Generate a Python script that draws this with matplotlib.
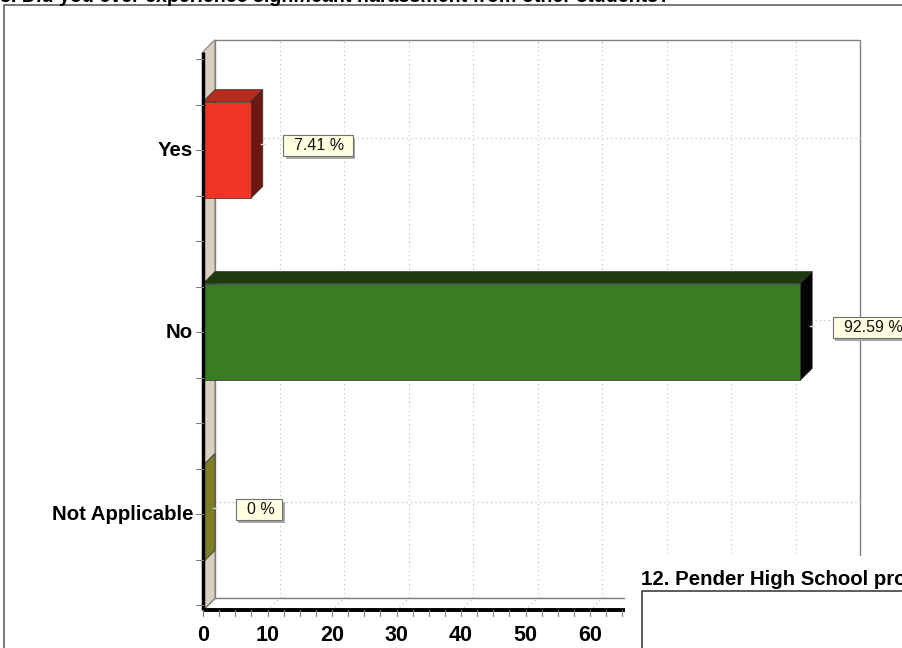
# harassment survey bar chart, 3d-ish style

import numpy as np
import matplotlib.pyplot as plt
from matplotlib.patches import Polygon, Rectangle
from matplotlib.transforms import IdentityTransform

plt.rcParams['font.family'] = ['Liberation Sans', 'DejaVu Sans']

# ---------- DATA ----------
TITLE = "8. Did you ever experience significant harassment from other students?"
NEXT_TITLE = "12. Pender High School pro"
categories = ["Yes", "No", "Not Applicable"]
values = [7.41, 92.59, 0.0]
value_labels = ["7.41 %", "92.59 %", "0 %"]
xticks = [0, 10, 20, 30, 40, 50, 60]
front_colors = ["#EE3424", "#387D23", "#7F7D28"]
top_colors = ["#B82A1E", "#1D3B0E", "#6A6820"]
side_colors = ["#6E1610", "#050505", "#7F7D28"]

# ---------- GEOMETRY (data units) ----------
DX = 12/6.45          # depth, in percent units
DY = 12/182           # depth, in category units
YLO, YHI = -0.53, 2.54
H = 0.266             # half bar height
XMAX = 100

fig = plt.figure(figsize=(9.02, 6.48), dpi=100)
ax = fig.add_axes([0, 0, 1, 1])
ax.set_xlim(-203/6.45, 699/6.45)
ax.set_ylim((514-648)/182, 514/182)
ax.axis("off")

ypos = [len(categories)-1-i for i in range(len(categories))]

# outer frame
ax.plot([-199/6.45, -199/6.45, 699/6.45], [(514-648)/182, (514-5)/182, (514-5)/182],
        color="#606060", lw=1.2, clip_on=False)

# title (cut at top)
ax.text(-203/6.45, (514-1.5)/182, TITLE, fontsize=14.1, fontweight="bold",
        ha="left", va="baseline")

# back wall
ax.add_patch(Rectangle((DX, YLO+DY), XMAX, YHI-YLO, fc="white", ec="#808080", lw=1, zorder=1))
for g in range(10, XMAX, 10):
    ax.plot([g+DX, g+DX], [YLO+DY, YHI+DY], color="#b8b8b8", lw=0.8, ls=(0, (1, 3)), zorder=2)
    ax.plot([g, g+DX], [YLO, YLO+DY], color="#b8b8b8", lw=0.8, ls=(0, (1, 3)), zorder=2)
for c in ypos:
    ax.plot([DX, XMAX+DX], [c+DY, c+DY], color="#b8b8b8", lw=0.8, ls=(0, (1, 3)), zorder=2)

# left wall + floor
ax.add_patch(Polygon([(0, YLO), (0, YHI), (DX, YHI+DY), (DX, YLO+DY)],
                     fc="#D9D0C1", ec="#808080", lw=0.8, zorder=3))
ax.add_patch(Polygon([(0, YLO), (XMAX, YLO), (XMAX+DX, YLO+DY), (DX, YLO+DY)],
                     fc="none", ec="#808080", lw=0.8, zorder=3))

# bars
for c, v, fc, tc, sc in zip(ypos, values, front_colors, top_colors, side_colors):
    ax.add_patch(Polygon([(0, c+H), (v, c+H), (v+DX, c+H+DY), (DX, c+H+DY)],
                         fc=tc, ec="#303030", lw=0.5, zorder=4))
    ax.add_patch(Polygon([(v, c-H), (v+DX, c-H+DY), (v+DX, c+H+DY), (v, c+H)],
                         fc=sc, ec="#303030", lw=0.5, zorder=4))
    if v > 0:
        ax.add_patch(Rectangle((0, c-H), v, 2*H, fc=fc, ec="#303030", lw=0.5, zorder=5))
    # leader
    ax.plot([v+DX/2+0.6, v+DX+0.3], [c+DY/2, c+DY/2], color="#dddddd", lw=1, zorder=6)

# axes lines
ax.plot([0, 0], [YLO, YHI], color="black", lw=2.5, zorder=7, solid_capstyle="butt")
ax.plot([0, XMAX], [YLO, YLO], color="black", lw=2.8, zorder=7, solid_capstyle="butt")
for t in np.arange(-0.5, 2.51, 0.25):
    ax.plot([-1.1, 0], [t, t], color="#808080", lw=0.8, zorder=7)
for t in np.arange(0, XMAX+0.1, 2.5):
    ax.plot([t, t], [YLO, YLO-0.03], color="#808080", lw=0.8, zorder=7)

# labels
for c, name in zip(ypos, categories):
    ax.text(-1.55, c, name, fontsize=14.7, fontweight="bold", ha="right", va="center")
for t in xticks:
    ax.text(t, -0.665, str(t), fontsize=15.5, fontweight="bold", ha="center", va="center")

vtexts = []
for c, v, lab in zip(ypos, values, value_labels):
    vtexts.append(ax.text(v + DX + 4.9, c+0.022, lab, fontsize=11.5, ha="left", va="center",
                          color="#111111", zorder=9))

# boxes + shadow sized from the rendered text
fig.canvas.draw()
r = fig.canvas.get_renderer()
for t in vtexts:
    bb = t.get_window_extent(r)
    x0, y0 = bb.x0 - 11, bb.y0 - 3
    w, h = bb.width + 19, bb.height + 6
    ax.add_patch(Rectangle((x0+2.5, y0-2.5), w, h, fc="#a8a8a8", ec="none",
                           transform=IdentityTransform(), zorder=8))
    ax.add_patch(Rectangle((x0, y0), w, h, fc="#FFFFE1", ec="#707070", lw=0.8,
                           transform=IdentityTransform(), zorder=8.5))

# overlapping next chart
ax.add_patch(Rectangle(((625-203)/6.45, (514-648)/182), 300/6.45, 92/182,
                       fc="white", ec="none", zorder=20))
ax.text((641-203)/6.45, (514-585)/182, NEXT_TITLE, fontsize=14.7, fontweight="bold",
        ha="left", va="baseline", zorder=21)
ax.plot([(642-203)/6.45, (642-203)/6.45, 699/6.45], [(514-648)/182, (514-591)/182, (514-591)/182],
        color="#404040", lw=1.2, zorder=21, clip_on=False)

fig.savefig("out.png", dpi=100)
